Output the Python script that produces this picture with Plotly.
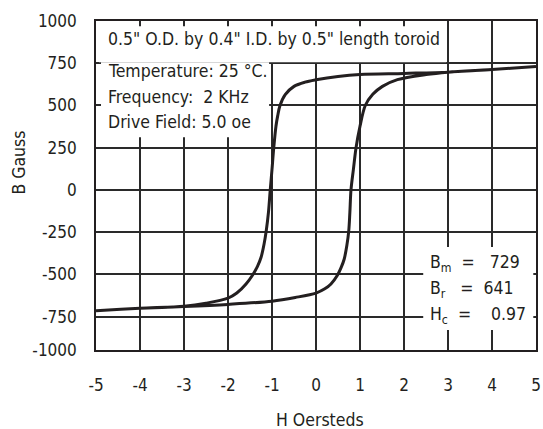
import plotly.graph_objects as go

# ---- data ----
# upper branch: H decreasing from +5 to -5
H_UP = [5.0, 4.0, 3.0, 2.0, 1.0, 0.5, 0.0, -0.25, -0.5, -0.7, -0.82, -0.87, -0.91,
        -0.96, -1.0, -1.04, -1.08, -1.13, -1.18, -1.25, -1.33, -1.44, -1.59, -1.8, -2.0, -2.5,
        -3.0, -4.0, -5.0]
B_UP = [731, 713, 697, 690, 684, 672, 652, 638, 613, 564, 498, 440, 377,
        250, 122, 0, -131, -240, -320, -400, -452, -503, -556, -610, -640, -670,
        -688, -700, -715]
# lower branch: H increasing from -5 to +5
H_LO = [-5.0, -4.0, -3.0, -2.0, -1.0, -0.47, 0.0, 0.2, 0.34, 0.49, 0.57, 0.64, 0.70, 0.745,
        0.77, 0.795, 0.85, 0.91, 1.0, 1.12, 1.29, 1.51, 1.85, 2.5, 3.0, 4.0, 5.0]
B_LO = [-715, -700, -690, -677, -658, -636, -610, -585, -556, -503, -460, -410, -330, -240,
        -131, 0, 122, 250, 377, 500, 566, 613, 653, 683, 697, 713, 731]

X_TICKS = [-5, -4, -3, -2, -1, 0, 1, 2, 3, 4, 5]
X_TICK_TEXT = ["-5", "-4", "-3", "-2", "-1", "0", "1", "2", "3", "4", "5"]
Y_BOTTOM = -947
Y_TICKS = [Y_BOTTOM, -750, -500, -250, 0, 250, 500, 750, 1000]
Y_TICK_TEXT = ["-1000", "-750", "-500", "-250", "0", "250", "500", "750", "1000"]

TITLE_TEXT = '0.5" O.D. by 0.4" I.D. by 0.5" length toroid'
COND_LINES = ["Temperature: 25 °C.", "Frequency:\u00a0 2 KHz", "Drive Field: 5.0 oe"]
RESULT_LINES = ["B<sub>m</sub>\u00a0 = \u00a0\u00a0729", "B<sub>r</sub>\u00a0\u00a0 = \u00a0641",
                "H<sub>c</sub>\u00a0 = \u00a0\u00a0\u00a00.97"]

FONT = "Liberation Sans Narrow, Arial Narrow, DejaVu Sans Condensed, sans-serif"
INK = "#231f20"
FS = 17.5

fig = go.Figure()
fig.add_trace(go.Scatter(x=H_UP + H_LO, y=B_UP + B_LO, mode="lines",
                         line=dict(color=INK, width=3, shape="spline", smoothing=0.9),
                         hoverinfo="skip", showlegend=False))

W0, H0 = 543, 429
L, R, T, B = 96, 7.3, 20.7, 79
pw, ph = W0 - L - R, H0 - T - B

def px(x):
    return (x - L) / pw

def py(y):
    return (H0 - B - y) / ph

# white boxes over the grid
for (x0, y0, x1, y1) in [(99, 26, 446, 62), (101, 62, 269, 137), (423, 247, 533, 330)]:
    fig.add_shape(type="rect", xref="paper", yref="paper", x0=px(x0), x1=px(x1),
                  y0=py(y1), y1=py(y0), fillcolor="white", line=dict(width=0), layer="above")

fig.add_annotation(text=TITLE_TEXT, xref="paper", yref="paper", x=px(106), y=py(39),
                   xanchor="left", yanchor="middle", showarrow=False,
                   font=dict(family=FONT, size=FS, color=INK))
for i, t in enumerate(COND_LINES):
    fig.add_annotation(text=t, xref="paper", yref="paper", x=px(106), y=py(71 + 25.5 * i),
                       xanchor="left", yanchor="middle", showarrow=False,
                       font=dict(family=FONT, size=FS, color=INK))
for i, t in enumerate(RESULT_LINES):
    fig.add_annotation(text=t, xref="paper", yref="paper", x=px(428), y=py(263 + 26 * i),
                       xanchor="left", yanchor="middle", showarrow=False,
                       font=dict(family=FONT, size=FS, color=INK))

fig.add_annotation(text="B Gauss", xref="paper", yref="paper", x=px(19.5), y=py(162),
                   textangle=-90, showarrow=False, xanchor="center", yanchor="middle",
                   font=dict(family=FONT, size=FS, color=INK))
fig.add_annotation(text="H Oersteds", xref="paper", yref="paper", x=px(320), y=py(420),
                   showarrow=False, xanchor="center", yanchor="middle",
                   font=dict(family=FONT, size=FS, color=INK))

axis_common = dict(showgrid=True, gridcolor="#2a2a2a", gridwidth=1.6, zeroline=False,
                   showline=True, linecolor=INK, linewidth=1.6, mirror=True, automargin=False,
                   ticks="", tickfont=dict(family=FONT, size=17, color=INK))
fig.update_xaxes(range=[-5, 5], tickvals=X_TICKS, ticktext=X_TICK_TEXT,
                 ticklabelstandoff=19, **axis_common)
fig.update_yaxes(range=[Y_BOTTOM, 1000], tickvals=Y_TICKS, ticktext=Y_TICK_TEXT,
                 ticklabelstandoff=14, **axis_common)

fig.update_layout(width=W0, height=H0, margin=dict(l=L, r=R, t=T, b=B, pad=0),
                  paper_bgcolor="white", plot_bgcolor="white", showlegend=False)
fig.write_html("out.html", config={"displayModeBar": False})

# remove the browser's default page margin so the figure sits at the window origin
with open("out.html", "r", encoding="utf-8") as f:
    html = f.read()
html = html.replace("<head>", "<head><style>html,body{margin:0;padding:0;overflow:hidden;}</style>", 1)
with open("out.html", "w", encoding="utf-8") as f:
    f.write(html)
